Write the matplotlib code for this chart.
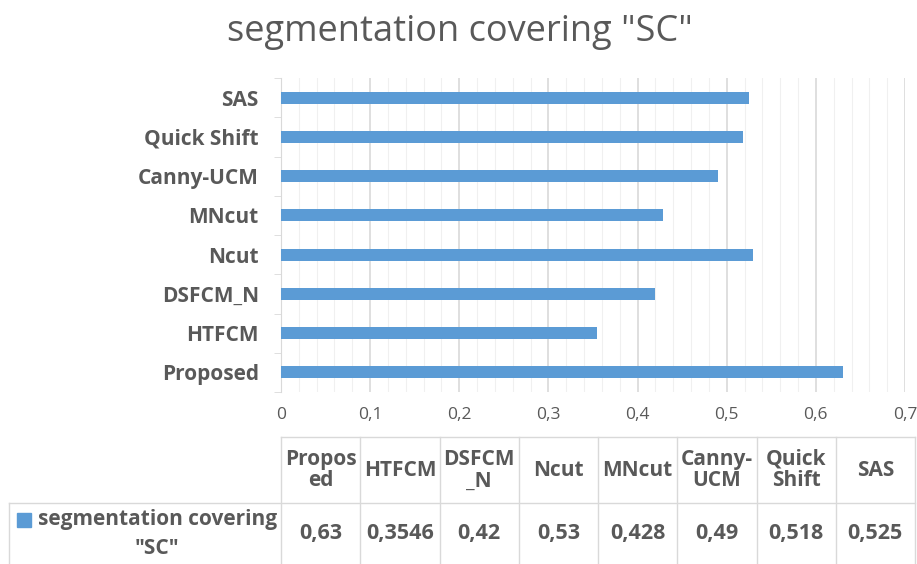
import matplotlib.pyplot as plt
import numpy as np
from matplotlib.ticker import MultipleLocator, FixedLocator, FuncFormatter
from matplotlib.lines import Line2D

methods = ["Proposed", "HTFCM", "DSFCM_N", "Ncut", "MNcut", "Canny-UCM", "Quick Shift", "SAS"]
table_heads = ["Propos\ned", "HTFCM", "DSFCM\n_N", "Ncut", "MNcut", "Canny-\nUCM", "Quick\nShift", "SAS"]
table_vals = ["0,63", "0,3546", "0,42", "0,53", "0,428", "0,49", "0,518", "0,525"]
sc = [0.63, 0.3546, 0.42, 0.53, 0.428, 0.49, 0.518, 0.525]
series_name = 'segmentation covering "SC"'

W, H = 917, 564
fig = plt.figure(figsize=(W / 100, H / 100), dpi=100)
plt.rcParams['font.family'] = ['Open Sans', 'DejaVu Sans']
grey = '#595959'
blue = '#5b9bd5'

def fx(p):
    return p / W

def fy(p):
    return 1 - p / H

# bar area
ax = fig.add_axes([fx(281), fy(392), fx(905) - fx(281), fy(78) - fy(392)])
y = np.arange(len(methods))
ax.barh(y, sc, height=0.3, color=blue, zorder=3)
ax.set_xlim(0, 0.7)
ax.set_ylim(-0.5, len(methods) - 0.5)
ax.xaxis.set_major_locator(MultipleLocator(0.1))
ax.xaxis.set_minor_locator(MultipleLocator(0.02))
ax.grid(which='major', axis='x', color='#d9d9d9', lw=1.2, zorder=0)
ax.grid(which='minor', axis='x', color='#f0f0f0', lw=0.8, zorder=0)
ax.xaxis.set_major_formatter(FuncFormatter(lambda v, p: ('%g' % round(v, 2)).replace('.', ',')))
ax.tick_params(axis='x', which='both', length=0, labelsize=12.5, labelcolor=grey, pad=11)
ax.set_yticks(y)
ax.set_yticklabels(methods, fontsize=15, fontweight='bold', color=grey)
ax.yaxis.set_minor_locator(FixedLocator(np.arange(-0.5, len(methods), 1)))
ax.tick_params(axis='y', which='major', length=0, pad=16)
ax.tick_params(axis='y', which='minor', length=5, color='#d9d9d9')
for s in ['top', 'right', 'bottom']:
    ax.spines[s].set_visible(False)
ax.spines['left'].set_color('#d9d9d9')

fig.text(0.502, fy(32), series_name, ha='center', va='center', fontsize=26, color=grey)

# data table
col_left = 281
col_w = (915 - 281) / len(methods)
top, mid, bot = 437, 503, 566
lc = '#d9d9d9'
fig.add_artist(Line2D([fx(col_left), fx(915)], [fy(top), fy(top)], color=lc, lw=1))
fig.add_artist(Line2D([fx(9), fx(915)], [fy(mid), fy(mid)], color=lc, lw=1))
fig.add_artist(Line2D([fx(9), fx(9)], [fy(mid), fy(bot)], color=lc, lw=1))
for i in range(len(methods) + 1):
    xx = col_left + i * col_w
    fig.add_artist(Line2D([fx(xx), fx(xx)], [fy(top), fy(bot)], color=lc, lw=1))
for i, (h, v) in enumerate(zip(table_heads, table_vals)):
    cx = col_left + (i + 0.5) * col_w
    fig.text(fx(cx), fy((top + mid) / 2), h, ha='center', va='center', fontsize=15,
             fontweight='bold', color=grey, linespacing=1.05)
    fig.text(fx(cx), fy((mid + 564) / 2), v, ha='center', va='center', fontsize=15.5,
             fontweight='bold', color=grey)

fig.patches.append(plt.Rectangle((fx(17), fy(527)), fx(14), fy(513) - fy(527),
                                 transform=fig.transFigure, color=blue))
fig.text(fx(38), fy(520), 'segmentation covering', ha='left', va='center', fontsize=15,
         fontweight='bold', color=grey)
fig.text(fx(157), fy(549), '"SC"', ha='center', va='center', fontsize=15,
         fontweight='bold', color=grey)

fig.savefig('out.png', dpi=100)
